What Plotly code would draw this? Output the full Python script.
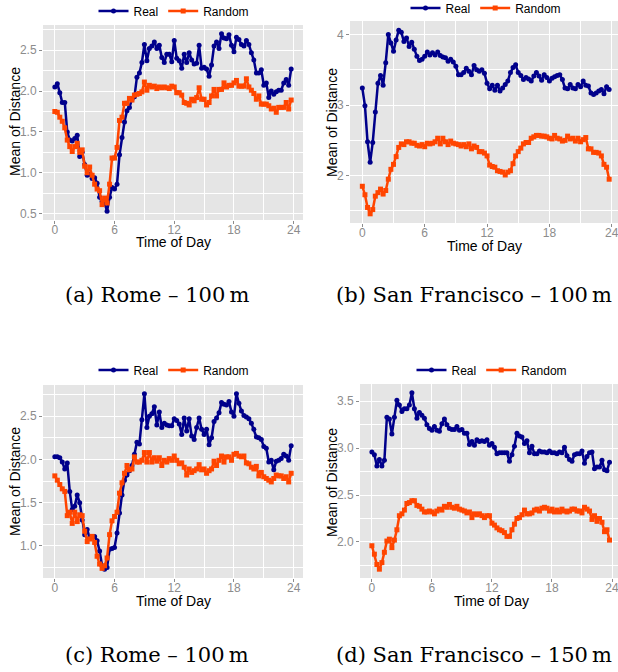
import plotly.graph_objects as go

# time of day, 15 minute bins
hours = [i / 4 for i in range(96)]

rome_a_real = [2.05, 2.09, 1.98, 1.86, 1.86, 1.50, 1.40, 1.39, 1.42, 1.46, 1.20, 1.25,
               1.10, 0.97, 0.98, 0.93, 0.94, 0.87, 0.70, 0.65, 0.63, 0.53, 0.70, 0.82,
               0.80, 0.86, 1.22, 1.43, 1.62, 1.76, 1.80, 1.90, 1.93, 2.17, 2.22, 2.35,
               2.57, 2.37, 2.52, 2.55, 2.60, 2.52, 2.56, 2.41, 2.35, 2.45, 2.45, 2.36,
               2.62, 2.40, 2.37, 2.28, 2.45, 2.35, 2.47, 2.38, 2.33, 2.34, 2.56, 2.28,
               2.29, 2.27, 2.18, 2.32, 2.55, 2.60, 2.52, 2.70, 2.65, 2.64, 2.69, 2.56,
               2.48, 2.66, 2.63, 2.57, 2.55, 2.62, 2.57, 2.47, 2.38, 2.22, 2.22, 2.26,
               2.07, 2.10, 1.92, 2.00, 1.96, 1.99, 2.01, 2.01, 2.10, 2.14, 2.07, 2.27]
rome_a_random = [1.75, 1.74, 1.68, 1.63, 1.55, 1.40, 1.32, 1.26, 1.32, 1.36, 1.25, 1.28,
                 1.08, 1.00, 1.07, 0.97, 0.86, 0.80, 0.78, 0.61, 0.69, 0.63, 0.86, 1.18,
                 1.18, 1.31, 1.64, 1.68, 1.85, 1.85, 1.91, 1.89, 1.95, 1.96, 1.97, 1.99,
                 2.11, 2.01, 2.07, 2.05, 2.06, 2.03, 2.05, 2.04, 2.05, 2.04, 2.03, 2.06,
                 2.05, 1.98, 1.98, 1.95, 1.86, 1.85, 1.83, 1.90, 1.88, 1.92, 2.04, 1.90,
                 1.90, 1.83, 1.86, 1.94, 2.02, 1.94, 2.02, 2.02, 2.10, 2.05, 2.07, 2.07,
                 2.10, 2.13, 2.06, 2.06, 2.06, 2.15, 2.05, 2.01, 1.97, 1.90, 1.94, 1.84,
                 1.84, 1.84, 1.82, 1.78, 1.79, 1.74, 1.80, 1.80, 1.80, 1.86, 1.78, 1.89]

sf_b_real = [3.24, 2.99, 2.48, 2.19, 2.47, 2.90, 3.31, 3.42, 3.28, 3.60, 4.00, 3.88,
             3.76, 3.92, 4.06, 4.03, 3.90, 3.95, 3.83, 3.89, 3.79, 3.69, 3.63, 3.65,
             3.69, 3.75, 3.71, 3.74, 3.71, 3.75, 3.70, 3.68, 3.67, 3.62, 3.65, 3.61,
             3.55, 3.43, 3.43, 3.46, 3.52, 3.48, 3.43, 3.56, 3.50, 3.48, 3.50, 3.45,
             3.31, 3.23, 3.28, 3.21, 3.28, 3.20, 3.24, 3.29, 3.34, 3.46, 3.53, 3.57,
             3.46, 3.42, 3.36, 3.39, 3.37, 3.34, 3.41, 3.46, 3.41, 3.35, 3.43, 3.39,
             3.34, 3.38, 3.40, 3.42, 3.43, 3.36, 3.24, 3.23, 3.29, 3.24, 3.23, 3.29,
             3.26, 3.34, 3.28, 3.27, 3.17, 3.15, 3.17, 3.20, 3.22, 3.16, 3.26, 3.22]
sf_b_random = [1.85, 1.73, 1.55, 1.46, 1.52, 1.71, 1.76, 1.81, 1.74, 1.79, 1.95, 2.09,
               2.16, 2.27, 2.40, 2.45, 2.44, 2.48, 2.48, 2.46, 2.46, 2.43, 2.42, 2.44,
               2.41, 2.46, 2.45, 2.46, 2.48, 2.53, 2.45, 2.53, 2.48, 2.44, 2.49, 2.46,
               2.45, 2.44, 2.42, 2.44, 2.41, 2.45, 2.38, 2.42, 2.40, 2.34, 2.34, 2.32,
               2.28, 2.15, 2.13, 2.12, 2.07, 2.06, 2.05, 2.01, 2.05, 2.07, 2.17, 2.28,
               2.34, 2.39, 2.45, 2.47, 2.47, 2.53, 2.55, 2.57, 2.57, 2.56, 2.56, 2.55,
               2.53, 2.52, 2.57, 2.53, 2.52, 2.49, 2.50, 2.56, 2.52, 2.53, 2.49, 2.53,
               2.48, 2.51, 2.54, 2.38, 2.38, 2.33, 2.33, 2.32, 2.28, 2.16, 2.12, 1.95]

rome_c_real = [2.03, 2.03, 2.02, 1.97, 1.89, 1.96, 1.63, 1.42, 1.46, 1.59, 1.50, 1.30,
               1.13, 1.19, 1.09, 1.11, 1.11, 1.06, 0.94, 0.77, 0.73, 0.75, 0.96, 0.97,
               0.98, 1.15, 1.38, 1.59, 1.76, 1.82, 1.87, 1.93, 2.06, 2.20, 2.18, 2.46,
               2.76, 2.37, 2.50, 2.53, 2.61, 2.40, 2.55, 2.37, 2.42, 2.40, 2.39, 2.39,
               2.47, 2.45, 2.41, 2.29, 2.48, 2.33, 2.47, 2.27, 2.23, 2.37, 2.48, 2.35,
               2.29, 2.35, 2.17, 2.25, 2.44, 2.48, 2.54, 2.66, 2.64, 2.63, 2.67, 2.55,
               2.50, 2.76, 2.65, 2.56, 2.51, 2.49, 2.47, 2.42, 2.35, 2.26, 2.25, 2.23,
               2.15, 2.13, 1.97, 1.99, 1.88, 1.98, 1.99, 2.01, 2.06, 2.04, 1.99, 2.16]
rome_c_random = [1.81, 1.76, 1.71, 1.66, 1.63, 1.35, 1.39, 1.26, 1.39, 1.28, 1.36, 1.35,
                 1.17, 1.05, 1.08, 1.11, 1.04, 0.88, 0.79, 0.74, 0.77, 0.86, 1.13, 1.29,
                 1.34, 1.39, 1.61, 1.73, 1.84, 1.93, 1.88, 1.89, 2.03, 1.97, 1.97, 1.99,
                 2.08, 1.97, 2.08, 1.97, 2.02, 1.98, 2.02, 1.93, 1.99, 1.97, 2.01, 1.99,
                 2.04, 1.99, 1.95, 1.96, 1.91, 1.82, 1.89, 1.85, 1.87, 1.89, 1.94, 1.88,
                 1.89, 1.84, 1.87, 1.89, 1.98, 1.93, 1.99, 2.04, 1.97, 2.03, 2.03, 1.99,
                 2.06, 2.07, 2.04, 2.03, 2.04, 1.96, 1.95, 1.91, 1.89, 1.92, 1.81, 1.85,
                 1.80, 1.78, 1.76, 1.74, 1.78, 1.82, 1.81, 1.81, 1.78, 1.80, 1.74, 1.84]

sf_d_real = [2.96, 2.93, 2.81, 2.88, 2.81, 2.87, 3.33, 3.31, 3.15, 3.33, 3.51, 3.46,
             3.39, 3.42, 3.42, 3.46, 3.59, 3.42, 3.32, 3.38, 3.35, 3.32, 3.25, 3.21,
             3.19, 3.23, 3.19, 3.18, 3.26, 3.31, 3.25, 3.21, 3.20, 3.20, 3.23, 3.19,
             3.20, 3.16, 3.16, 3.04, 3.07, 3.03, 3.09, 3.07, 3.08, 3.07, 3.09, 3.03,
             3.05, 3.01, 2.94, 2.95, 2.95, 2.95, 2.95, 2.86, 2.93, 3.02, 3.16, 3.13,
             3.12, 3.05, 3.08, 2.95, 3.02, 2.94, 2.94, 2.97, 2.96, 2.96, 2.95, 2.97,
             2.95, 2.95, 2.94, 2.96, 2.95, 3.01, 2.92, 2.88, 2.86, 2.93, 2.94, 2.94,
             2.97, 2.84, 2.91, 2.95, 2.96, 2.78, 2.80, 2.80, 2.87, 2.77, 2.76, 2.85]
sf_d_random = [1.96, 1.87, 1.76, 1.71, 1.78, 1.89, 2.01, 2.03, 1.94, 2.02, 2.13, 2.28,
               2.30, 2.34, 2.41, 2.42, 2.44, 2.44, 2.39, 2.38, 2.35, 2.32, 2.32, 2.33,
               2.32, 2.30, 2.33, 2.35, 2.34, 2.38, 2.37, 2.40, 2.37, 2.36, 2.38, 2.35,
               2.34, 2.33, 2.31, 2.32, 2.26, 2.30, 2.29, 2.30, 2.28, 2.26, 2.28, 2.28,
               2.20, 2.18, 2.15, 2.13, 2.12, 2.10, 2.06, 2.06, 2.13, 2.19, 2.25, 2.26,
               2.29, 2.34, 2.30, 2.30, 2.31, 2.34, 2.35, 2.33, 2.36, 2.37, 2.36, 2.33,
               2.35, 2.32, 2.34, 2.32, 2.35, 2.33, 2.32, 2.33, 2.35, 2.35, 2.33, 2.33,
               2.31, 2.37, 2.35, 2.33, 2.24, 2.28, 2.22, 2.25, 2.21, 2.11, 2.13, 2.02]

x_ticks = [0, 6, 12, 18, 24]
x_title = "Time of Day"
y_title = "Mean of Distance"
captions = ["(a) Rome \u2013 100\u2009m", "(b) San Francisco \u2013 100\u2009m",
            "(c) Rome \u2013 100\u2009m", "(d) San Francisco \u2013 150\u2009m"]

REAL_COLOR = "#00008B"
RANDOM_COLOR = "#FF4500"
BG = "#E5E5E5"
TICK_GREY = "#8c8c8c"
SANS = "Liberation Sans, Arial, sans-serif"

# visible page size; the graph gets an extra strip above the window so the
# top legends can sit close to the page edge (plotly keeps legends inside the div)
W, H = 618, 672
TOP = 16
HT = H + TOP

# panel boxes in page pixels: (left, right, top, bottom); right panels are cropped at the page edge
panels = [
    dict(real=rome_a_real, rnd=rome_a_random, box=(43, 303, 25, 220), ydtick=0.5, yfmt=".1f",
         legend=(174, 11), caption=(157, 295), xcrop=None,
         xtitle=(173, 242), ytitle=(15, 122)),
    dict(real=sf_b_real, rnd=sf_b_random, box=(350, 618, 21, 223), ydtick=1, yfmt="d",
         legend=(486, 8), caption=(474, 295), xcrop=24.6,
         xtitle=(485, 246), ytitle=(332, 122)),
    dict(real=rome_c_real, rnd=rome_c_random, box=(43, 303, 385, 578), ydtick=0.5, yfmt=".1f",
         legend=(174, 370), caption=(157, 655), xcrop=None,
         xtitle=(173, 601), ytitle=(15, 482)),
    dict(real=sf_d_real, rnd=sf_d_random, box=(360, 618, 384, 578), ydtick=0.5, yfmt=".1f",
         legend=(492, 370), caption=(474, 655), xcrop=24.6,
         xtitle=(491, 601), ytitle=(332, 482)),
]


def py2paper(py):
    return 1 - (py + TOP) / HT


def expand(vals, frac=0.05):
    lo, hi = min(vals), max(vals)
    pad = (hi - lo) * frac
    return [lo - pad, hi + pad]


def text_at(text, px, py, size, family=None, angle=0):
    font = dict(size=size, color="black")
    if family:
        font["family"] = family
    return dict(text=text, x=px / W, y=py2paper(py), xref="paper", yref="paper",
                xanchor="center", yanchor="middle", showarrow=False,
                textangle=angle, font=font)


fig = go.Figure()
layout = dict(width=W, height=HT, margin=dict(l=0, r=0, t=0, b=0),
              paper_bgcolor="white", plot_bgcolor=BG, font=dict(family=SANS, color="black"),
              annotations=[])

for i, p in enumerate(panels, start=1):
    sfx = "" if i == 1 else str(i)
    leg = "legend" if i == 1 else f"legend{i}"
    l, r, t, b = p["box"]

    fig.add_trace(go.Scatter(x=hours, y=p["real"], name="Real", mode="lines+markers",
                             line=dict(color=REAL_COLOR, width=2.5),
                             marker=dict(symbol="circle", size=5, color=REAL_COLOR),
                             xaxis=f"x{sfx}", yaxis=f"y{sfx}", legend=leg))
    fig.add_trace(go.Scatter(x=hours, y=p["rnd"], name="Random", mode="lines+markers",
                             line=dict(color=RANDOM_COLOR, width=2.5),
                             marker=dict(symbol="square", size=5, color=RANDOM_COLOR),
                             xaxis=f"x{sfx}", yaxis=f"y{sfx}", legend=leg))

    xr = expand(hours)
    if p["xcrop"] is not None:
        xr[1] = p["xcrop"]
    yr = expand(p["real"] + p["rnd"])
    layout[f"xaxis{sfx}"] = dict(
        domain=[l / W, r / W], anchor=f"y{sfx}", range=xr,
        tickvals=x_ticks, ticks="outside", ticklen=3, tickcolor=TICK_GREY,
        tickfont=dict(size=12, color=TICK_GREY), ticklabeloverflow="allow",
        ticklabelstandoff=-4,
        showline=False, zeroline=False, gridcolor="white", gridwidth=1.1,
        minor=dict(dtick=3, tick0=0, gridcolor="white", gridwidth=0.5, ticks=""))
    layout[f"yaxis{sfx}"] = dict(
        domain=[py2paper(b), py2paper(t)], anchor=f"x{sfx}", range=yr,
        tick0=0, dtick=p["ydtick"], tickformat=p["yfmt"], ticks="outside", ticklen=3,
        tickcolor=TICK_GREY, tickfont=dict(size=12, color=TICK_GREY),
        showline=False, zeroline=False, gridcolor="white", gridwidth=1.1,
        minor=dict(dtick=p["ydtick"] / 2, tick0=0, gridcolor="white", gridwidth=0.5, ticks=""))

    lx, ly = p["legend"]
    layout[leg] = dict(orientation="h", x=lx / W, y=py2paper(ly), xanchor="center",
                       yanchor="middle", font=dict(size=12), bgcolor="rgba(0,0,0,0)",
                       itemwidth=30, tracegroupgap=0)

    layout["annotations"].append(text_at(x_title, *p["xtitle"], 14))
    layout["annotations"].append(text_at(y_title, *p["ytitle"], 14, angle=-90))
    layout["annotations"].append(text_at(captions[i - 1], *p["caption"], 21,
                                         family="DejaVu Serif, serif"))

fig.update_layout(**layout)

# pin the graph so that the extra strip sits above the visible page
pin = ("document.body.style.margin = '0';"
       "var gd = document.getElementById('{plot_id}');"
       "gd.style.position = 'absolute'; gd.style.left = '0px';"
       "gd.style.top = '-" + str(TOP) + "px';")
fig.write_html("out.html", config={"displayModeBar": False}, post_script=pin)
